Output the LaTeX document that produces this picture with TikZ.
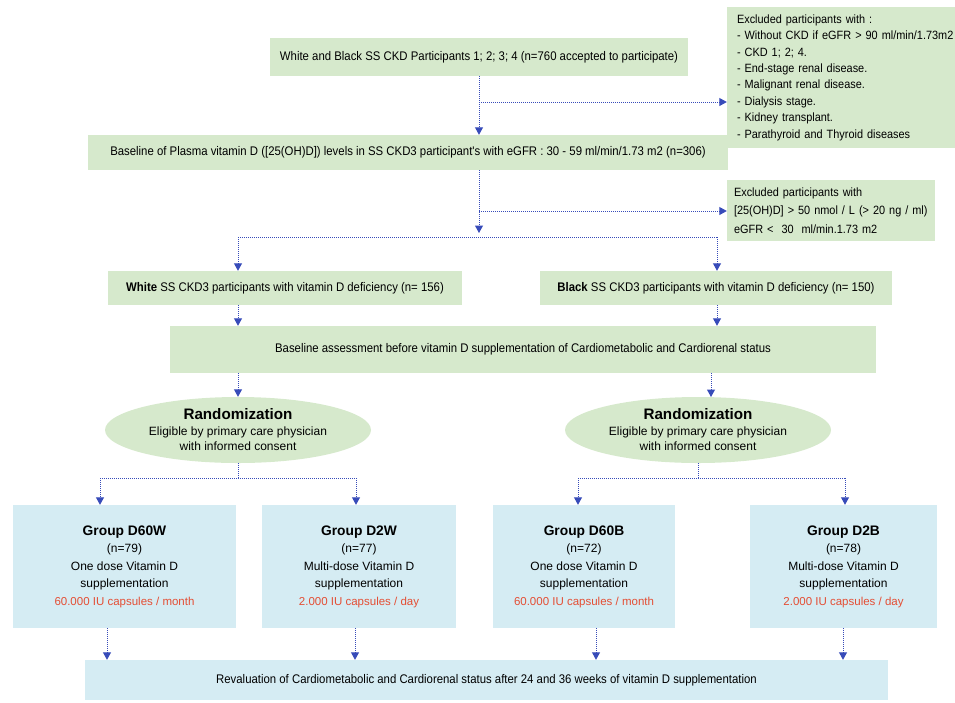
\documentclass[tikz,border=0pt]{standalone}
\usepackage{fontspec}
\setmainfont{Liberation Sans}
\newfontfamily\narrowfont{Liberation Sans}[FakeStretch=0.91]
\usetikzlibrary{arrows.meta,shapes.geometric}
\definecolor{boxgreen}{RGB}{214,233,204}
\definecolor{boxblue}{RGB}{213,236,243}
\definecolor{flowblue}{RGB}{55,75,185}
\definecolor{dosered}{RGB}{228,78,52}
\begin{document}
\begin{tikzpicture}[x=1pt,y=-1pt,
        gbox/.style={rectangle, fill=boxgreen, inner sep=0pt, font=\narrowfont\fontsize{12.5}{14}\selectfont},
        exbox/.style={rectangle, fill=boxgreen, inner ysep=0pt, align=left},
        grpbox/.style={rectangle, fill=boxblue, inner sep=0pt, align=center, font=\fontsize{12}{17.5}\selectfont},
        randell/.style={ellipse, fill=boxgreen, inner sep=0pt, minimum width=266pt, minimum height=66pt, align=center, font=\fontsize{12}{15.5}\selectfont},
        flowline/.style={draw=flowblue, densely dotted, line width=1pt},
        flow/.style={flowline, -{Triangle[width=8pt,length=7.5pt]}}
    ]
    \useasboundingbox (0,0) rectangle (955,702);

    % top of the chart
    \node[gbox, minimum width=418pt, minimum height=38pt] (allpart) at (479,57)
        {White and Black SS CKD Participants 1; 2; 3; 4 (n=760 accepted to participate)};
    \node[exbox, inner xsep=10pt, text width=224pt, minimum height=141pt, font=\narrowfont\fontsize{12}{16.4}\selectfont] (excla) at (849,77.5) {
        Excluded participants with :\\
        - Without CKD if eGFR > 90 ml/min/1.73m2\\
        - CKD 1; 2; 4.\\
        - End-stage renal disease.\\
        - Malignant renal disease.\\
        - Dialysis stage.\\
        - Kidney transplant.\\
        - Parathyroid and Thyroid diseases
    };
    \node[gbox, minimum width=640pt, minimum height=35pt] (basepl) at (408,152.5)
        {Baseline of Plasma vitamin D ([25(OH)D]) levels in SS CKD3 participant's with eGFR : 30 - 59 ml/min/1.73 m2 (n=306)};
    \node[exbox, inner xsep=7pt, text width=194pt, minimum height=61pt, font=\narrowfont\fontsize{12}{18.5}\selectfont] (exclb) at (831,210.5) {
        Excluded participants with\\
        {[25(OH)D]} > 50 nmol / L (> 20 ng / ml)\\
        eGFR <~ 30~ ml/min.1.73 m2
    };

    % white / black branches
    \node[gbox, minimum width=354pt, minimum height=34pt] (white) at (285,288)
        {\textbf{White} SS CKD3 participants with vitamin D deficiency (n= 156)};
    \node[gbox, minimum width=352pt, minimum height=34pt] (black) at (716,288)
        {\textbf{Black} SS CKD3 participants with vitamin D deficiency (n= 150)};
    \node[gbox, minimum width=706pt, minimum height=47pt] (assess) at (523,349.5)
        {Baseline assessment before vitamin D supplementation of Cardiometabolic and Cardiorenal status};

    \node[randell] (randw) at (238,430) {\textbf{\fontsize{15.2}{19}\selectfont Randomization}\\
        Eligible by primary care physician\\with informed consent};
    \node[randell] (randb) at (698,430) {\textbf{\fontsize{15.2}{19}\selectfont Randomization}\\
        Eligible by primary care physician\\with informed consent};

    % the four groups
    \node[grpbox, minimum width=223pt, minimum height=123pt] (dsixw) at (124.5,566.5) {\textbf{\fontsize{13.8}{19}\selectfont Group D60W}\\
        (n=79)\\One dose Vitamin D\\supplementation\\\textcolor{dosered}{\fontsize{11.5}{17.5}\selectfont 60.000 IU capsules / month}};
    \node[grpbox, minimum width=194pt, minimum height=123pt] (dtwow) at (359,566.5) {\textbf{\fontsize{13.8}{19}\selectfont Group D2W}\\
        (n=77)\\Multi-dose Vitamin D\\supplementation\\\textcolor{dosered}{\fontsize{11.5}{17.5}\selectfont 2.000 IU capsules / day}};
    \node[grpbox, minimum width=182pt, minimum height=123pt] (dsixb) at (584,566.5) {\textbf{\fontsize{13.8}{19}\selectfont Group D60B}\\
        (n=72)\\One dose Vitamin D\\supplementation\\\textcolor{dosered}{\fontsize{11.5}{17.5}\selectfont 60.000 IU capsules / month}};
    \node[grpbox, minimum width=187pt, minimum height=123pt] (dtwob) at (843.5,566.5) {\textbf{\fontsize{13.8}{19}\selectfont Group D2B}\\
        (n=78)\\Multi-dose Vitamin D\\supplementation\\\textcolor{dosered}{\fontsize{11.5}{17.5}\selectfont 2.000 IU capsules / day}};

    \node[grpbox, minimum width=803pt, minimum height=40pt, font=\narrowfont\fontsize{12.5}{14}\selectfont] (reval) at (486.5,680)
        {Revaluation of Cardiometabolic and Cardiorenal status after 24 and 36 weeks of vitamin D supplementation};

    % connectors
    \coordinate (bra) at (479,102);
    \coordinate (brb) at (479,211);
    \coordinate (brbend) at (479,233);
    \coordinate (wsplit) at (238,237);
    \coordinate (bsplit) at (717,237);
    \coordinate (bcol) at (711,373);
    \coordinate (bcolend) at (711,397);
    \coordinate (rwl) at (100,478);
    \coordinate (rwr) at (356,478);
    \coordinate (rbl) at (578,478);
    \coordinate (rbr) at (845,478);

    \draw[flow] (allpart.south) -- (allpart.south |- basepl.north);
    \draw[flow] (bra) -- (bra -| excla.west);
    \draw[flow] (basepl.south -| bra) -- (brbend);
    \draw[flow] (brb) -- (brb -| exclb.west);
    \draw[flowline] (wsplit) -- (bsplit);
    \draw[flow] (wsplit) -- (wsplit |- white.north);
    \draw[flow] (bsplit) -- (bsplit |- black.north);
    \draw[flow] (wsplit |- white.south) -- (wsplit |- assess.north);
    \draw[flow] (bsplit |- black.south) -- (bsplit |- assess.north);
    \draw[flow] (wsplit |- assess.south) -- (randw.north);
    \draw[flow] (bcol) -- (bcolend);

    \draw[flowline] (randw.south) -- (randw.south |- rwl);
    \draw[flowline] (rwl) -- (rwr);
    \draw[flow] (rwl) -- (rwl |- dsixw.north);
    \draw[flow] (rwr) -- (rwr |- dtwow.north);
    \draw[flowline] (randb.south) -- (randb.south |- rbl);
    \draw[flowline] (rbl) -- (rbr);
    \draw[flow] (rbl) -- (rbl |- dsixb.north);
    \draw[flow] (rbr) -- (rbr |- dtwob.north);

    \foreach \grp/\xc in {dsixw/107, dtwow/355, dsixb/596, dtwob/843} {
        \coordinate (col\grp) at (\xc,0);
        \draw[flow] (\grp.south -| col\grp) -- (col\grp |- reval.north);
    }
\end{tikzpicture}
\end{document}
